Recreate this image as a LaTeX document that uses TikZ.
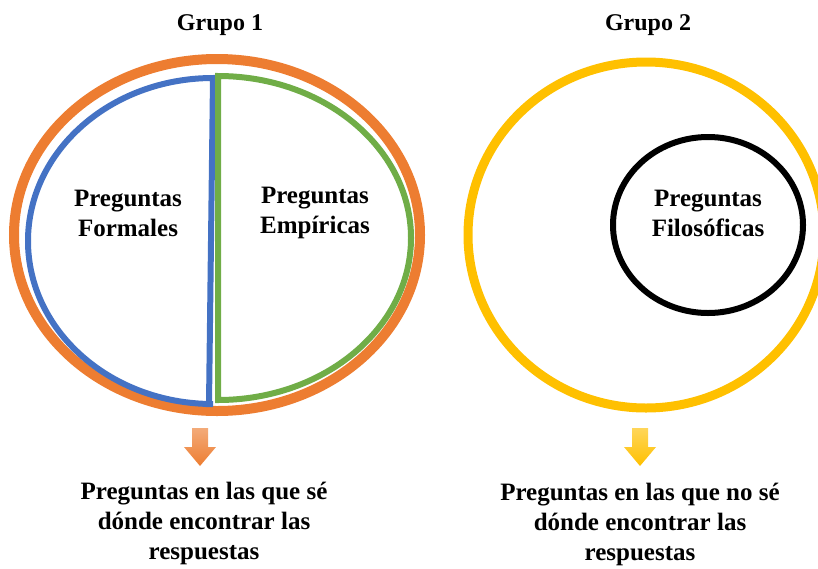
\documentclass[tikz,border=0pt]{standalone}
\usepackage{fontspec}
\setmainfont{Liberation Serif}
\definecolor{grOrange}{HTML}{ED7D31}
\definecolor{grBlue}{HTML}{4472C4}
\definecolor{grGreen}{HTML}{70AD47}
\definecolor{grYellow}{HTML}{FFC000}
\tikzset{
  titulo/.style={font=\bfseries\fontsize{24}{28}\selectfont, anchor=center},
  etiqueta/.style={font=\bfseries\fontsize{25}{30}\selectfont, align=center, anchor=center},
}
\begin{document}
\begin{tikzpicture}[x=1pt,y=-1pt]
	\useasboundingbox (0,0) rectangle (818,568);
	% grupo 1
	\draw[grOrange,line width=10pt] (217,235) ellipse[x radius=203,y radius=176];
	\draw[grBlue,line width=6pt] (213,78) arc[start angle=270,end angle=90,x radius=185,y radius=163] -- (209,404) -- cycle;
	\draw[grGreen,line width=6pt] (218,76) arc[start angle=270,end angle=450,x radius=193,y radius=162] -- cycle;
	% grupo 2
	\draw[grYellow,line width=9pt] (646,235) ellipse[x radius=178,y radius=173];
	\draw[black,line width=6pt] (708,225) ellipse[x radius=95,y radius=88];
	% titulos
	\node[titulo] (g1) at (220,25) {Grupo 1};
	\node[titulo] (g2) at (648,25) {Grupo 2};
	% etiquetas
	\node[etiqueta] (formales) at (128,213) {Preguntas\\Formales};
	\node[etiqueta] (empiricas) at (315,213) {Preguntas\\Empíricas};
	\node[etiqueta] (filosoficas) at (708,213) {Preguntas\\Filosóficas};
	% flechas
	\foreach \x/\c in {200/grOrange,640/grYellow}
		\shade[top color=\c!65, bottom color=\c, draw=none]
			(\x-8,428) -- (\x+8,428) -- (\x+8,447) -- (\x+16,447) -- (\x,466)
			-- (\x-16,447) -- (\x-8,447) -- cycle;
	\node[etiqueta] (sabe) at (204,523) {Preguntas en las que sé\\dónde encontrar las\\respuestas};
	\node[etiqueta] (nosabe) at (640,524) {Preguntas en las que no sé\\dónde encontrar las\\respuestas};
\end{tikzpicture}
\end{document}
